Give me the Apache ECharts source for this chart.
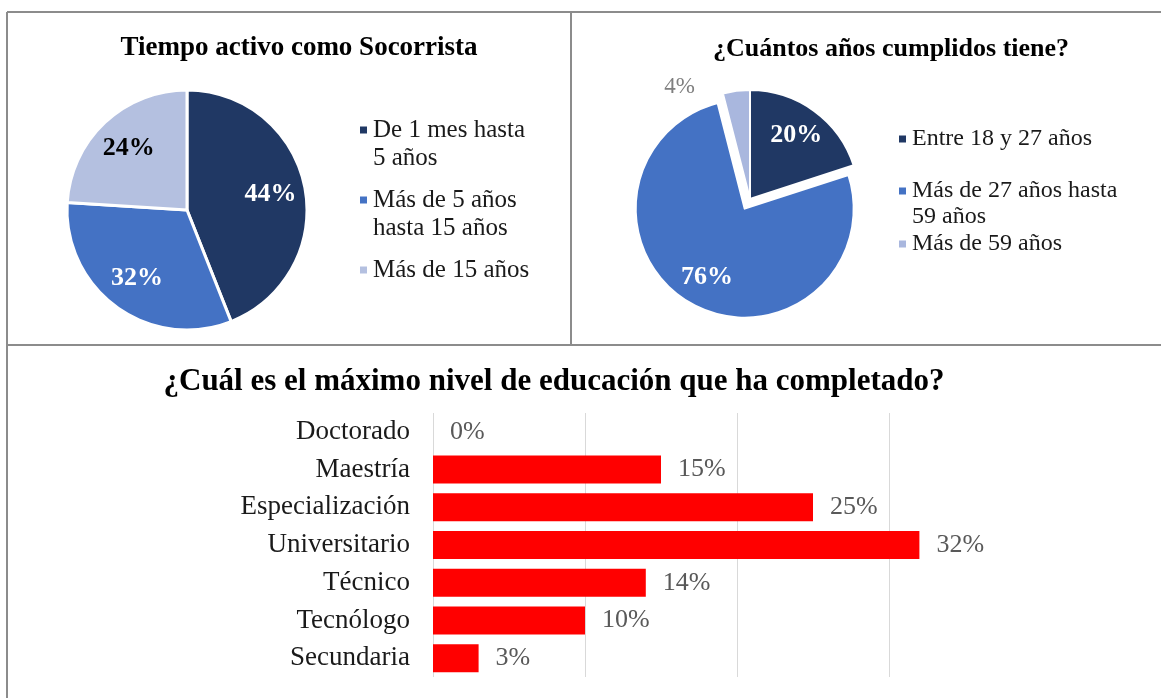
<!DOCTYPE html>
<html>
<head>
<meta charset="utf-8">
<script src="https://cdn.jsdelivr.net/npm/echarts@6/dist/echarts.min.js"></script>
<style>
  html, body { margin: 0; padding: 0; background: #fff; }
  #chart { width: 1161px; height: 698px; }
</style>
</head>
<body>
<div id="chart"></div>
<script>
// datos
var tiempoLabels = ["De 1 mes hasta\n5 años", "Más de 5 años\nhasta 15 años", "Más de 15 años"];
var tiempoValues = [44, 32, 24];
var edadLabels = ["Entre 18 y 27 años", "Más de 27 años hasta\n59 años", "Más de 59 años"];
var edadValues = [20, 76, 4];
var nivelLabels = ["Doctorado", "Maestría", "Especialización", "Universitario", "Técnico", "Tecnólogo", "Secundaria"];
var nivelValues = [0, 15, 25, 32, 14, 10, 3];

var tiempoColors = ["#203864", "#4472C4", "#B4C0E0"];
var edadColors = ["#203864", "#4472C4", "#A9B7DE"];
var tiempoLabelColors = ["#fff", "#fff", "#000"];

var FONT = "'Liberation Serif', 'Times New Roman', serif";

var myChart = echarts.init(document.getElementById("chart"));

// una leyenda por elemento; linea vacia arriba para que el icono quede en la primera linea
function legendItem(name, left, top, lh, size) {
  return {
    left: left,
    top: top,
    padding: 0,
    icon: "rect",
    itemWidth: 9,
    itemHeight: 9,
    selectedMode: false,
    formatter: function (n) {
      return n.indexOf("\n") >= 0 ? "\n" + n : n;
    },
    textStyle: { fontFamily: FONT, fontSize: size, lineHeight: lh, color: "#1a1a1a" },
    data: [name],
  };
}

var tiempoData = tiempoLabels.map(function (n, i) {
  return { name: n, value: tiempoValues[i], itemStyle: { color: tiempoColors[i] } };
});
var tiempoLabelData = tiempoLabels.map(function (n, i) {
  return { name: n, value: tiempoValues[i], label: { color: tiempoLabelColors[i] } };
});
var edadData = edadLabels.map(function (n, i) {
  var d = { name: n, value: edadValues[i], itemStyle: { color: edadColors[i] } };
  if (i === 1) d.selected = true;
  if (i === 2) d.label = { show: true };
  return d;
});
var edadLabelData = edadLabels.map(function (n, i) {
  return { name: n, value: edadValues[i], selected: i === 1, label: { show: i < 2 } };
});

var option = {
  animation: false,
  title: [
    { text: "Tiempo activo como Socorrista", left: 299, top: 35, textAlign: "center", padding: 0,
      textStyle: { fontFamily: FONT, fontSize: 27, fontWeight: "bold", color: "#000" } },
    { text: "¿Cuántos años cumplidos tiene?", left: 891, top: 36, textAlign: "center", padding: 0,
      textStyle: { fontFamily: FONT, fontSize: 26, fontWeight: "bold", color: "#000" } },
    { text: "¿Cuál es el máximo nivel de educación que ha completado?", left: 554, top: 366, textAlign: "center", padding: 0,
      textStyle: { fontFamily: FONT, fontSize: 31, fontWeight: "bold", color: "#000" } },
  ],
  legend: [
    legendItem(tiempoLabels[0], 358, 88, 28, 25),
    legendItem(tiempoLabels[1], 358, 158, 28, 25),
    legendItem(tiempoLabels[2], 358, 256, 28, 25),
    legendItem(edadLabels[0], 897, 126, 26, 24),
    legendItem(edadLabels[1], 897, 152, 26, 24),
    legendItem(edadLabels[2], 897, 231, 26, 24),
  ],
  graphic: [
    { type: "line", shape: { x1: 7, y1: 12, x2: 1161, y2: 12 }, style: { stroke: "#8c8c8c", lineWidth: 2 } },
    { type: "line", shape: { x1: 7, y1: 12, x2: 7, y2: 698 }, style: { stroke: "#8c8c8c", lineWidth: 2 } },
    { type: "line", shape: { x1: 571, y1: 12, x2: 571, y2: 345 }, style: { stroke: "#8c8c8c", lineWidth: 2 } },
    { type: "line", shape: { x1: 7, y1: 345, x2: 1161, y2: 345 }, style: { stroke: "#8c8c8c", lineWidth: 2 } },
  ],
  grid: { left: 433, top: 413, width: 532, height: 264 },
  xAxis: {
    type: "value",
    min: 0,
    max: 35,
    interval: 10,
    axisLabel: { show: false },
    axisLine: { show: false },
    axisTick: { show: false },
    splitLine: { show: true, showMaxLine: false, lineStyle: { color: "#d9d9d9", width: 1 } },
  },
  yAxis: {
    type: "category",
    inverse: true,
    data: nivelLabels,
    axisLine: { show: false },
    axisTick: { show: false },
    axisLabel: { fontFamily: FONT, fontSize: 27, color: "#1a1a1a", margin: 23 },
  },
  series: [
    {
      type: "pie",
      center: [187, 210],
      radius: [0, 120],
      startAngle: 90,
      silent: true,
      itemStyle: { borderColor: "#fff", borderWidth: 3 },
      label: { show: false },
      labelLine: { show: false },
      data: tiempoData,
    },
    {
      type: "pie",
      center: [187, 210],
      radius: [44, 120],
      startAngle: 90,
      silent: true,
      itemStyle: { color: "rgba(0,0,0,0)", borderWidth: 0 },
      label: { show: true, position: "inside", formatter: "{c}%", fontFamily: FONT, fontSize: 26, fontWeight: "bold" },
      labelLine: { show: false },
      data: tiempoLabelData,
    },
    {
      type: "pie",
      center: [750, 199],
      radius: [0, 109],
      startAngle: 90,
      selectedMode: "single",
      selectedOffset: 11,
      itemStyle: { borderColor: "#fff", borderWidth: 2 },
      label: { show: false, position: "outside", formatter: "{c}%", fontFamily: FONT, fontSize: 23, color: "#7f7f7f" },
      labelLine: { show: true, length: 4, length2: 36, lineStyle: { color: "#a6a6a6", width: 1 } },
      data: edadData,
    },
    {
      type: "pie",
      center: [750, 199],
      radius: [42, 109],
      startAngle: 90,
      silent: true,
      selectedMode: "single",
      selectedOffset: 11,
      itemStyle: { color: "rgba(0,0,0,0)", borderWidth: 0 },
      label: { position: "inside", formatter: "{c}%", fontFamily: FONT, fontSize: 26, fontWeight: "bold", color: "#fff" },
      labelLine: { show: false },
      data: edadLabelData,
    },
    {
      type: "bar",
      data: nivelValues,
      barWidth: 28,
      itemStyle: { color: "#ff0000" },
      label: { show: true, position: "right", distance: 17, formatter: "{c}%", fontFamily: FONT, fontSize: 26, color: "#595959" },
    },
  ],
};

myChart.setOption(option);
</script>
</body>
</html>
